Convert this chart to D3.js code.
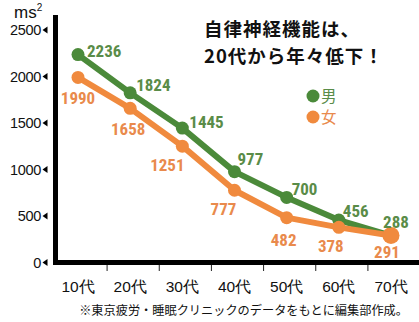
<!DOCTYPE html>
<html><head><meta charset="utf-8">
<script src="https://cdn.jsdelivr.net/npm/d3@7"></script>
<style>
html,body{margin:0;padding:0;background:#fff;}
svg{display:block;}
</style></head>
<body>
<script>
// ---- data ----
const categories = ["10代","20代","30代","40代","50代","60代","70代"];
const maleValues = [2236,1824,1445,977,700,456,288];
const femaleValues = [1990,1658,1251,777,482,378,291];
const yTickValues = [0,500,1000,1500,2000,2500];
const seriesNames = ["男","女"];
const titleLines = ["自律神経機能は、","20代から年々低下！"];
const unitLabel = "ms";
const footnote = "※東京疲労・睡眠クリニックのデータをもとに編集部作成。";

// ---- layout (label offsets relative to point) ----
const maleLabelOffsets = [[9,2,"start"],[6,-2,"start"],[7,0,"start"],[3,-7,"start"],[5,-2,"start"],[4,-3,"start"],[5,-8,"middle"]];
const femaleLabelOffsets = [[0,27],[-2,27],[-15,25],[-11,25],[-3,28],[-8,25],[-4,23]];

const W = 419, H = 322;
const green = "#4b8a3a", orange = "#f08a3e";
const greenText = "#5a8c48", orangeText = "#e98a4c";
const labelFont = "'Liberation Sans Narrow','Arial Narrow','Roboto Condensed','Liberation Sans',sans-serif";
const baseFont = "'Liberation Sans',Arial,sans-serif";
const cjkFont = "'Noto Sans CJK JP','Noto Sans CJK SC',sans-serif";

const svg = d3.select("body").append("svg").attr("width", W).attr("height", H);

const x = d3.scalePoint().domain(categories).range([78, 391]);
const y = d3.scaleLinear().domain([0, 2500]).range([262.5, 30]);

// y tick labels with small left-pointing triangles
const yt = svg.append("g");
yTickValues.forEach(v => {
  const yy = y(v);
  yt.append("text").attr("x", 41).attr("y", yy + 5).attr("text-anchor", "end")
    .attr("font-family", baseFont).attr("font-size", 14.5).attr("fill", "#111")
    .attr("letter-spacing", -0.3).text(v);
  yt.append("path").attr("d", `M42.5,${yy} L47.5,${yy-3.5} L47.5,${yy+3.5} Z`).attr("fill", "#000");
});

// unit
const unit = svg.append("text").attr("x", 14).attr("y", 18).attr("font-family", baseFont)
  .attr("font-size", 17).attr("fill", "#111");
unit.append("tspan").text(unitLabel);
unit.append("tspan").attr("font-size", 10).attr("dy", -7).text("2");

// axes
svg.append("line").attr("x1", 55.5).attr("x2", 55.5).attr("y1", 15).attr("y2", 265).attr("stroke", "#000").attr("stroke-width", 5);
svg.append("line").attr("x1", 53).attr("x2", W).attr("y1", 262.5).attr("y2", 262.5).attr("stroke", "#000").attr("stroke-width", 5);
// x ticks between categories
for (let i = 0; i < categories.length - 1; i++) {
  const mx = (x(categories[i]) + x(categories[i+1])) / 2 + 3;
  svg.append("line").attr("x1", mx).attr("x2", mx).attr("y1", 265).attr("y2", 271).attr("stroke", "#222").attr("stroke-width", 1);
}
// x labels
svg.append("g").selectAll("text").data(categories).join("text")
  .attr("x", d => x(d)).attr("y", 292).attr("text-anchor", "middle")
  .attr("font-family", baseFont).attr("font-size", 15.5).attr("fill", "#111").text(d => d);

// footnote
svg.append("text").attr("x", 408).attr("y", 315).attr("text-anchor", "end")
  .attr("font-family", cjkFont).attr("font-size", 12.2).attr("fill", "#111").text(footnote);

// title (one text element, two lines)
const title = svg.append("text").attr("font-family", cjkFont)
  .attr("font-weight", "bold").attr("font-size", 18.5).attr("letter-spacing", 1).attr("fill", "#111");
titleLines.forEach((t, i) => {
  title.append("tspan").attr("x", 204).attr("y", 36 + i * 27).text(t);
});

// lines
const line = d3.line().x((d, i) => x(categories[i])).y(d => y(d));
function drawSeries(vals, color, r, lastR) {
  svg.append("path").datum(vals).attr("d", line).attr("fill", "none")
    .attr("stroke", color).attr("stroke-width", 6).attr("stroke-linejoin", "round");
  svg.append("g").selectAll("circle").data(vals).join("circle")
    .attr("cx", (d, i) => x(categories[i])).attr("cy", d => y(d))
    .attr("r", (d, i) => i === vals.length - 1 ? lastR : r).attr("fill", color);
}
drawSeries(maleValues, green, 6.5, 6.5);
drawSeries(femaleValues, orange, 6.5, 8.5);

// data labels
svg.append("g").selectAll("text").data(maleValues).join("text")
  .attr("x", (d, i) => x(categories[i]) + maleLabelOffsets[i][0])
  .attr("y", (d, i) => y(d) + maleLabelOffsets[i][1])
  .attr("text-anchor", (d, i) => maleLabelOffsets[i][2])
  .attr("font-family", labelFont).attr("font-weight", "bold").attr("font-size", 17)
  .attr("fill", greenText).text(d => d);
svg.append("g").selectAll("text").data(femaleValues).join("text")
  .attr("x", (d, i) => x(categories[i]) + femaleLabelOffsets[i][0])
  .attr("y", (d, i) => y(d) + femaleLabelOffsets[i][1])
  .attr("text-anchor", "middle")
  .attr("font-family", labelFont).attr("font-weight", "bold").attr("font-size", 17)
  .attr("fill", orangeText).text(d => d);

// legend
[[green, greenText, 96], [orange, orangeText, 117]].forEach((c, i) => {
  svg.append("circle").attr("cx", 313).attr("cy", c[2]).attr("r", 6.5).attr("fill", c[0]);
  svg.append("text").attr("x", 321).attr("y", c[2] + 6).attr("font-family", cjkFont)
    .attr("font-size", 15.5).attr("fill", c[1]).text(seriesNames[i]);
});
</script>
</body></html>
